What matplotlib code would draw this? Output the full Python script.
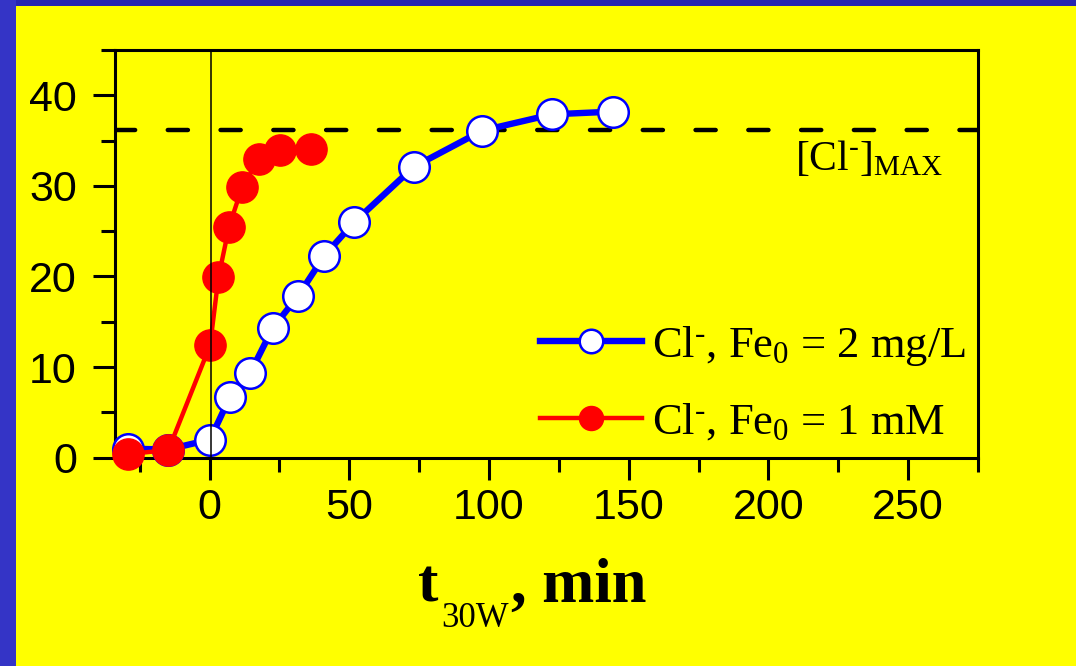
import matplotlib
matplotlib.use("Agg")
import matplotlib.pyplot as plt
from matplotlib.patches import Rectangle
from matplotlib.ticker import MultipleLocator

# ---- data ----
t_fe2mg = [-29, -15, 0.2, 7.3, 14.5, 22.6, 31.8, 41.1, 51.8, 73.1, 97.6, 122.6, 144.4]
cl_fe2mg = [1.0, 0.9, 2.0, 6.7, 9.3, 14.3, 17.9, 22.3, 26.0, 32.1, 36.1, 37.9, 38.2]

t_fe1mm = [-29, -14.7, 0.2, 3.2, 7.0, 11.7, 17.8, 25.2, 36.3]
cl_fe1mm = [0.4, 0.85, 12.4, 19.9, 25.5, 29.9, 33.0, 34.0, 34.1]

cl_max = 36.2
t_start = 0.7

x_ticks = [0, 50, 100, 150, 200, 250]
y_ticks = [0, 10, 20, 30, 40]

# ---- style ----
plt.rcParams["font.family"] = "Liberation Sans"
plt.rcParams["mathtext.fontset"] = "custom"
plt.rcParams["mathtext.rm"] = "Liberation Serif"
plt.rcParams["mathtext.it"] = "Liberation Serif:italic"
plt.rcParams["mathtext.bf"] = "Liberation Serif:bold"
plt.rcParams["lines.scale_dashes"] = False

W, H = 1076, 666
fig = plt.figure(figsize=(W / 100, H / 100), dpi=100, facecolor="#ffff00")

# slide frame (blue bars on top and left)
fig.patches.append(Rectangle((0, 1 - 6 / H), 1, 6 / H, transform=fig.transFigure,
                             facecolor="#2626b0", edgecolor="none", zorder=0))
fig.patches.append(Rectangle((0, 0), 16 / W, 1, transform=fig.transFigure,
                             facecolor="#3434c6", edgecolor="none", zorder=0))

left, right, bottom, top = 114.5 / W, 978 / W, 1 - 457.7 / H, 1 - 50 / H
ax = fig.add_axes([left, bottom, right - left, top - bottom])
ax.set_facecolor("#ffff00")

ax.axhline(cl_max, color="black", lw=3.2, dashes=(14.5, 23.5),
           dash_capstyle="round", zorder=1)

ion = r"Cl$^{\text{-}}$"
ax.plot(t_fe2mg, cl_fe2mg, "-o", color="#0000ff", lw=4.6, ms=22,
        mfc="white", mec="#0000ff", mew=1.8, clip_on=False, zorder=3,
        label=ion + r", Fe$_{0}$ = 2 mg/L")
ax.plot(t_fe1mm, cl_fe1mm, "-o", color="#ff0000", lw=3.2, ms=22.5,
        mfc="#ff0000", mec="#ff0000", clip_on=False, zorder=4,
        label=ion + r", Fe$_{0}$ = 1 mM")

ax.axvline(t_start, color="black", lw=1.1, zorder=6)

ax.set_xlim(-34, 275)
ax.set_ylim(0, 45)
ax.set_xticks(x_ticks)
ax.set_yticks(y_ticks)
ax.xaxis.set_minor_locator(MultipleLocator(25))
ax.yaxis.set_minor_locator(MultipleLocator(5))

for s in ax.spines.values():
    s.set_linewidth(2.2)
ax.tick_params(which="major", direction="out", length=16, width=2.2,
               labelsize=31, top=False, right=False)
ax.tick_params(which="minor", direction="out", length=10, width=2.2,
               top=False, right=False)
ax.tick_params(axis="x", which="major", pad=6)
ax.tick_params(axis="y", which="major", pad=11)

leg = ax.legend(loc="upper left", bbox_to_anchor=(540 / W, 1 - 324 / H),
                bbox_transform=fig.transFigure, frameon=False,
                prop={"family": "Liberation Serif", "size": 32},
                handlelength=2.3, handletextpad=0.22, labelspacing=0.76,
                borderpad=0, borderaxespad=0, markerscale=0.77)

ax.text(209.4, 31.8, r"[Cl$^{\text{-}}$]$_{\mathrm{MAX}}$", fontsize=30,
        family="Liberation Serif", va="baseline", ha="left")

# axis title: t with a dropped subscript, then ", min"
serif = {"family": "Liberation Serif", "va": "baseline", "ha": "left"}
fig.text(418 / W, 1 - 602 / H, "t", fontsize=44, weight="bold", **serif)
fig.text(441 / W, 1 - 627 / H, "30W", fontsize=25, **serif)
fig.text(511 / W, 1 - 602 / H, ", min", fontsize=45, weight="bold", **serif)

fig.savefig("out.png", dpi=100, facecolor=fig.get_facecolor())
